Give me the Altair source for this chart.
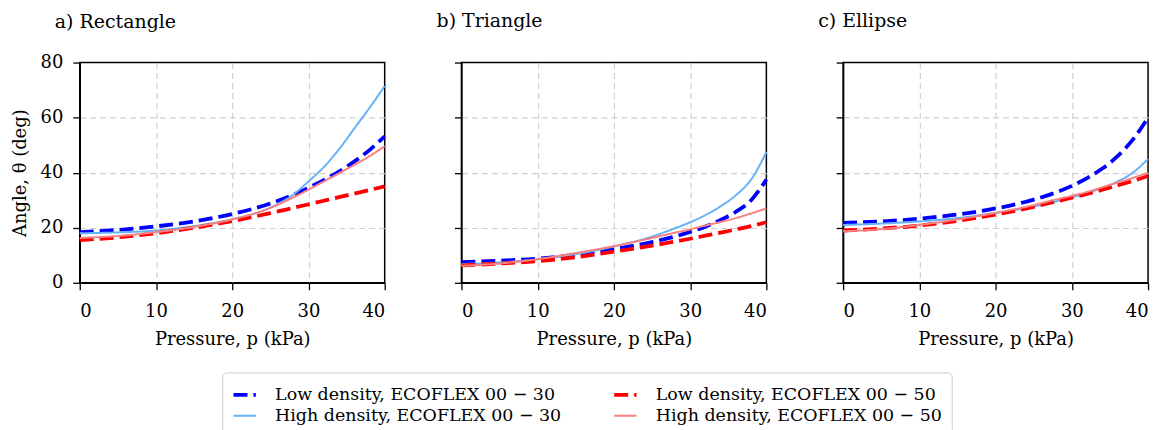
import altair as alt
import pandas as pd

pressure = [0, 5, 10, 15, 20, 25, 28, 30, 32, 34, 36, 38, 40]

# legend / draw order: LD30, HD30, LD50, HD50 (legend fills column by column)
series_names = [
    "Low density, ECOFLEX 00 − 30",
    "High density, ECOFLEX 00 − 30",
    "Low density, ECOFLEX 00 − 50",
    "High density, ECOFLEX 00 − 50",
]
series_colors = ["#0000ff", "#66b2f8", "#ff0000", "#f98080"]
series_dash = [[14, 6], [1, 0], [14, 6], [1, 0]]
series_width = [3.8, 2.0, 3.8, 2.0]

panel_titles = ["a) Rectangle", "b) Triangle", "c) Ellipse"]

# Rectangle
rect_ld30 = [18.4, 19.2, 20.5, 22.3, 25.0, 28.8, 32.0, 34.5, 37.3, 40.4, 44.0, 48.2, 53.2]
rect_hd30 = [18.0, 18.3, 19.0, 20.6, 23.1, 27.3, 32.0, 36.8, 42.0, 48.5, 56.0, 63.5, 71.5]
rect_ld50 = [15.5, 16.5, 18.0, 20.0, 22.4, 25.3, 27.2, 28.5, 29.8, 31.1, 32.4, 33.7, 35.0]
rect_hd50 = [16.3, 17.0, 18.4, 20.3, 23.0, 27.2, 31.0, 33.8, 36.8, 39.8, 42.8, 46.0, 49.6]

# Triangle
tri_ld30 = [7.5, 8.0, 8.8, 10.2, 12.2, 14.8, 16.8, 18.5, 20.4, 22.8, 25.8, 30.0, 37.5]
tri_hd30 = [6.8, 7.4, 8.5, 10.4, 13.2, 16.8, 19.8, 22.0, 24.6, 27.8, 31.8, 37.5, 47.5]
tri_ld50 = [6.3, 7.0, 7.9, 9.3, 11.3, 13.5, 15.0, 16.0, 17.1, 18.2, 19.4, 20.6, 22.0]
tri_hd50 = [6.2, 7.0, 8.6, 10.8, 13.3, 16.3, 18.2, 19.4, 20.8, 22.1, 23.5, 25.2, 27.0]

# Ellipse
ell_ld30 = [21.8, 22.3, 23.3, 24.8, 27.0, 30.2, 32.9, 35.2, 38.0, 41.5, 46.0, 52.0, 60.0]
ell_hd30 = [21.0, 21.5, 22.3, 23.5, 25.4, 27.7, 29.6, 31.0, 32.6, 34.5, 36.8, 40.0, 45.0]
ell_ld50 = [19.0, 19.7, 20.8, 22.5, 24.8, 27.6, 29.6, 30.9, 32.3, 33.8, 35.4, 37.0, 38.8]
ell_hd50 = [18.7, 19.5, 21.0, 23.0, 25.4, 28.2, 30.3, 31.6, 33.0, 34.7, 36.4, 38.1, 40.0]

panel_data = {
    panel_titles[0]: [rect_ld30, rect_hd30, rect_ld50, rect_hd50],
    panel_titles[1]: [tri_ld30, tri_hd30, tri_ld50, tri_hd50],
    panel_titles[2]: [ell_ld30, ell_hd30, ell_ld50, ell_hd50],
}

rows = []
for shape, lists in panel_data.items():
    for name, vals in zip(series_names, lists):
        for p, v in zip(pressure, vals):
            rows.append({"shape": shape, "series": name, "p": p, "theta": v})
df = pd.DataFrame(rows)

FONT = "DejaVu Serif"

legend = alt.Legend(
    title=None, orient="none", legendX=143, legendY=311, columns=2,
    symbolType="stroke", symbolSize=500, labelFont=FONT, labelFontSize=17.5,
    labelColor="black", strokeColor="#cccccc", padding=9, cornerRadius=4,
    fillColor="white", columnPadding=44, rowPadding=0, labelOffset=17,
    labelLimit=500,
)

title_offsets = [22, 31, 31]

edge_x = {"condition": {"test": "datum.value === 0 || datum.value === 40", "value": 0}, "value": 1}
edge_y = {"condition": {"test": "datum.value === 0 || datum.value === 80", "value": 0}, "value": 1}


def panel(idx):
    title = panel_titles[idx]
    show = idx == 0
    base = alt.Chart(df[df["shape"] == title])
    layers = []
    for s in series_names:
        layers.append(
            base.transform_filter(alt.datum.series == s)
            .mark_line(interpolate="monotone")
            .encode(
                x=alt.X("p:Q", scale=alt.Scale(domain=[0, 40], nice=False),
                        axis=alt.Axis(values=[0, 10, 20, 30, 40], title="Pressure, p (kPa)",
                                      labelPadding=13, gridOpacity=edge_x)),
                y=alt.Y("theta:Q", scale=alt.Scale(domain=[0, 80], nice=False),
                        axis=alt.Axis(values=[0, 20, 40, 60, 80], labels=show, titlePadding=11,
                                      gridOpacity=edge_y,
                                      title="Angle, θ (deg)" if show else None)),
                color=alt.Color("series:N", scale=alt.Scale(domain=series_names, range=series_colors), legend=legend),
                strokeDash=alt.StrokeDash("series:N", scale=alt.Scale(domain=series_names, range=series_dash), legend=legend),
                strokeWidth=alt.StrokeWidth("series:N", scale=alt.Scale(type="ordinal", domain=series_names, range=series_width), legend=legend),
            )
        )
    return alt.layer(*layers).properties(
        width=306, height=221,
        title=alt.TitleParams(title, anchor="start", frame="group", dx=-25, offset=title_offsets[idx],
                              font=FONT, fontSize=19, fontWeight="normal", color="black"),
    )


chart = alt.hconcat(panel(0), panel(1), panel(2), spacing=77, bounds="flush").properties(
    padding={"left": 2, "top": 2, "right": 5, "bottom": 5}
).configure_view(stroke="black", strokeWidth=1.5).configure_axis(
    labelFont=FONT, labelFontSize=18, labelColor="black", titleFont=FONT,
    titleFontSize=18, titleFontWeight="normal", titleColor="black",
    tickColor="black", tickSize=7, tickWidth=1.3, domainColor="black", domainWidth=1.5,
    grid=True, gridColor="#d0d0d0", gridDash=[6, 4], gridWidth=1.2,
    labelPadding=10, titlePadding=10,
)

chart.save("out.html", embed_options={"renderer": "svg", "actions": False})
